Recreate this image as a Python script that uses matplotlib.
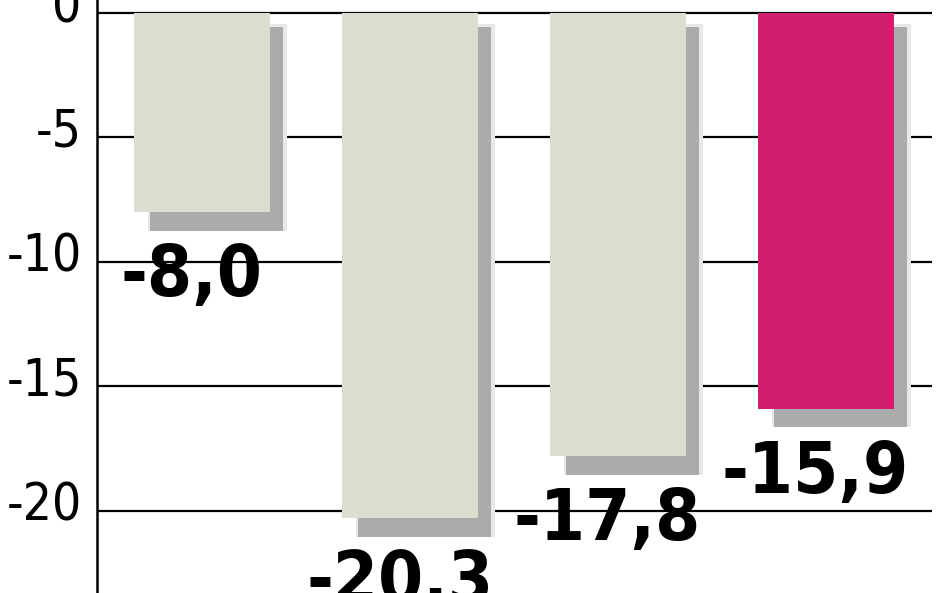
import numpy as np
import matplotlib.pyplot as plt
from matplotlib.transforms import ScaledTranslation

# values
categories = ["A", "B", "C", "D"]
values = [-8.0, -20.3, -17.8, -15.9]
labels = ["-8,0", "-20,3", "-17,8", "-15,9"]
yticks = [0, -5, -10, -15, -20]

bar_colors = ["#dcdccf", "#dcdccf", "#dcdccf", "#d01f6e"]

fig = plt.figure(figsize=(9.48, 5.93), dpi=100)
ax = fig.add_axes([97 / 948, 0, (932 - 97) / 948, 1])

x = np.arange(len(values))
w = 0.65

# gridlines behind everything
for t in yticks:
    ax.axhline(t, color="black", lw=1.6, zorder=0)

# soft shadow: light halo + darker core, shifted right/down
vals = np.array(values)
ax.bar(x + 0.075, vals - 0.3, bottom=-0.45, width=w + 0.02,
       color="#e8e8e8", zorder=1)
ax.bar(x + 0.07, vals - 0.2, bottom=-0.55, width=w - 0.01,
       color="#ababab", zorder=2)
ax.bar(x, vals, width=w, color=bar_colors, zorder=3)

for xi, v, lab in zip(x, values, labels):
    ax.text(xi - 0.05, v - 1.2, lab, ha="center", va="top",
            fontsize=52, fontweight="bold", family="DejaVu Sans",
            fontstretch="condensed", color="black", zorder=4)

ax.set_xlim(-0.505, 3.51)
ax.set_ylim(-23.3, 0.52)
ax.set_yticks(yticks)
ax.set_yticklabels([str(t) for t in yticks], family="DejaVu Sans",
                   fontstretch="condensed", fontsize=37)
ax.tick_params(axis="y", length=0, pad=11)
# labels sit a little above their gridlines in the original
up = ScaledTranslation(0, 10 / 100, fig.dpi_scale_trans)
for lbl in ax.get_yticklabels():
    lbl.set_transform(lbl.get_transform() + up)
ax.set_xticks([])
for s in ["top", "right", "bottom"]:
    ax.spines[s].set_visible(False)
ax.spines["left"].set_linewidth(1.8)
ax.spines["left"].set_zorder(5)

fig.savefig("out.png", dpi=100)
